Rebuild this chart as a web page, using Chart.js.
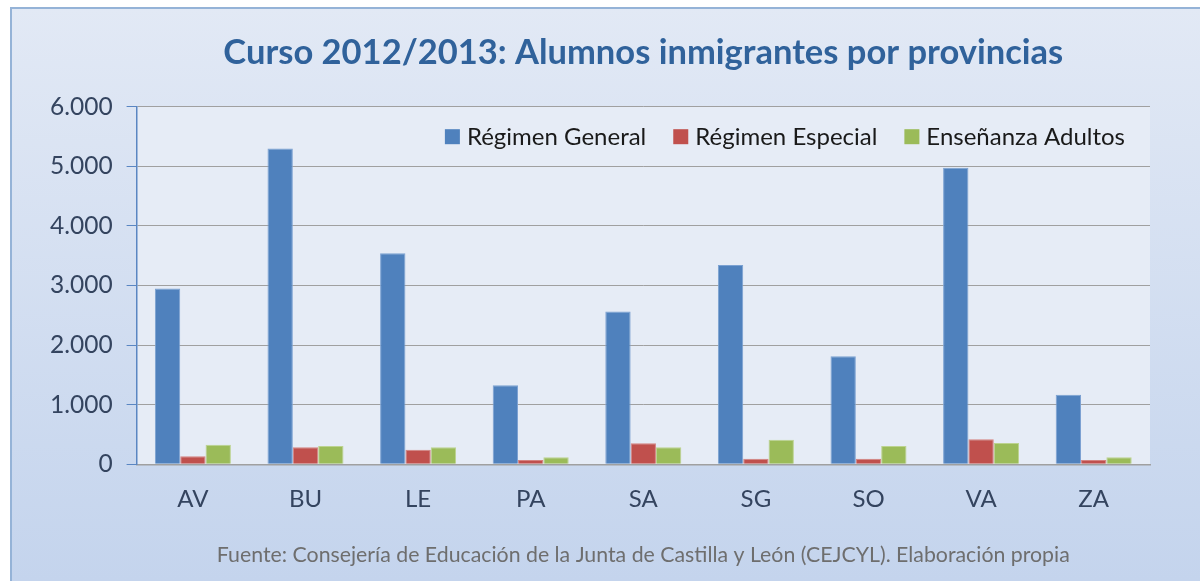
<!DOCTYPE html>
<html><head><meta charset="utf-8">
<script src="https://cdn.jsdelivr.net/npm/chart.js@4"></script>
<style>html,body{margin:0;padding:0;background:#fff;}canvas{display:block}</style>
</head><body>
<canvas id="c" width="1200" height="581"></canvas>
<script>
const categories = ['AV','BU','LE','PA','SA','SG','SO','VA','ZA'];
const regimenGeneral = [2950, 5300, 3540, 1325, 2565, 3345, 1812, 4977, 1168];
const regimenEspecial = [134, 285, 245, 72, 352, 94, 94, 419, 72];
const ensenanzaAdultos = [329, 307, 285, 117, 285, 413, 307, 357, 117];
const yTickLabels = ['0','1.000','2.000','3.000','4.000','5.000','6.000'];
const seriesNames = ['Régimen General','Régimen Especial','Enseñanza Adultos'];
const titleText = 'Curso 2012/2013: Alumnos inmigrantes por provincias';
const sourceText = 'Fuente: Consejería de Educación de la Junta de Castilla y León (CEJCYL). Elaboración propia';

const FONT = 'Lato, "Open Sans", sans-serif';

const background = {
  id: 'background',
  beforeDraw(chart) {
    const ctx = chart.ctx, W = chart.width, H = chart.height;
    ctx.save();
    ctx.fillStyle = '#ffffff';
    ctx.fillRect(0, 0, W, H);
    const g = ctx.createLinearGradient(0, 7, 0, H);
    g.addColorStop(0, '#e2e9f5');
    g.addColorStop(1, '#c4d4ed');
    ctx.fillStyle = g;
    ctx.fillRect(10, 7, W - 10, H - 7);
    ctx.strokeStyle = '#95b3d7';
    ctx.lineWidth = 2;
    ctx.beginPath();
    ctx.moveTo(11, H); ctx.lineTo(11, 8); ctx.lineTo(W, 8);
    ctx.stroke();
    const a = chart.chartArea;
    ctx.fillStyle = '#e6ecf6';
    ctx.fillRect(a.left, a.top, a.right - a.left, a.bottom - a.top);
    ctx.restore();
  }
};

const insideLegend = {
  id: 'insideLegend',
  afterDatasetsDraw(chart) {
    const ctx = chart.ctx, a = chart.chartArea;
    ctx.save();
    ctx.font = '24px ' + FONT;
    ctx.textBaseline = 'middle';
    const box = 15, gapBoxText = 7, gapItems = 27;
    const items = chart.data.datasets.map(d => ({label: d.label, color: d.backgroundColor, w: ctx.measureText(d.label).width}));
    const total = items.reduce((s, it) => s + box + gapBoxText + it.w, 0) + gapItems * (items.length - 1);
    let x = a.right - 25 - total;
    const y = a.top + 30;
    items.forEach(it => {
      ctx.fillStyle = it.color;
      ctx.fillRect(x, y - box / 2, box, box);
      x += box + gapBoxText;
      ctx.fillStyle = '#1a1a1a';
      ctx.fillText(it.label, x, y + 1);
      x += it.w + gapItems;
    });
    ctx.restore();
  }
};

new Chart(document.getElementById('c'), {
  type: 'bar',
  data: {
    labels: categories,
    datasets: [
      {label: seriesNames[0], data: regimenGeneral, backgroundColor: '#4f81bd', borderColor: '#7ba1d2', borderWidth: 1},
      {label: seriesNames[1], data: regimenEspecial, backgroundColor: '#c0504d', borderColor: '#d48280', borderWidth: 1},
      {label: seriesNames[2], data: ensenanzaAdultos, backgroundColor: '#9bbb59', borderColor: '#bcd38f', borderWidth: 1}
    ]
  },
  options: {
    responsive: false,
    devicePixelRatio: 1,
    animation: false,
    layout: {padding: {left: 0, right: 50, top: 0, bottom: 0}},
    datasets: {bar: {categoryPercentage: 0.675, barPercentage: 1.0}},
    plugins: {
      legend: {display: false},
      tooltip: {enabled: false},
      title: {
        display: true, text: titleText, fullSize: false,
        color: '#30629b',
        font: {family: FONT, size: 34.5, weight: 'bold'},
        padding: {top: 32, bottom: 33.3}
      },
      subtitle: {
        display: true, text: sourceText, position: 'bottom', fullSize: false,
        color: '#6e6e6e',
        font: {family: FONT, size: 21.3},
        padding: {top: 28, bottom: 13.1}
      }
    },
    scales: {
      x: {
        grid: {display: false, drawTicks: false, tickLength: 0},
        border: {display: true, color: '#a0a0a0', width: 1.5},
        ticks: {color: '#34445f', font: {family: FONT, size: 24}, padding: 20.5},
        afterFit(s) { s.height = 50; }
      },
      y: {
        min: 0, max: 6000,
        grid: {color: '#a0a0a0', lineWidth: 1, tickColor: '#5a86c2', tickLength: 10},
        border: {display: true, color: '#5a86c2', width: 1.5},
        ticks: {
          stepSize: 1000, color: '#34445f', padding: 14,
          font: {family: FONT, size: 24.5},
          callback: (v, i) => yTickLabels[i]
        },
        afterFit(s) { s.width = 136.6; }
      }
    }
  },
  plugins: [background, insideLegend]
});
</script>
</body></html>
